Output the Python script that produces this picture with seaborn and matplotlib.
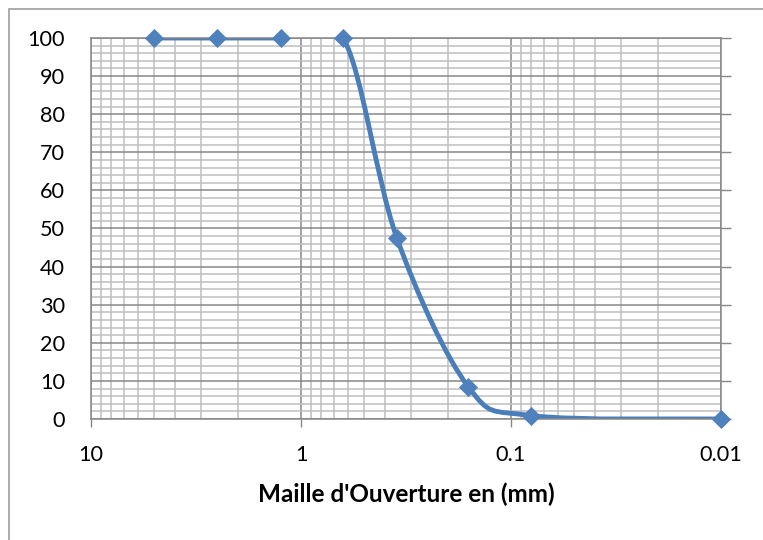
import numpy as np
import matplotlib
matplotlib.use("Agg")
import matplotlib.pyplot as plt
import seaborn as sns
from matplotlib.path import Path
from matplotlib.patches import PathPatch
from matplotlib.lines import Line2D
from matplotlib.ticker import FixedLocator, FixedFormatter, MultipleLocator, NullFormatter

# ---- data ----
sieve_mm = [5, 2.5, 1.25, 0.63, 0.35, 0.16, 0.08, 0.01]
passing_pct = [100, 100, 100, 100, 47.6, 8.5, 0.9, 0]
x_ticks = [10, 1, 0.1, 0.01]
x_tick_labels = ["10", "1", "0.1", "0.01"]
y_ticks = [0, 10, 20, 30, 40, 50, 60, 70, 80, 90, 100]
x_label = "Maille d'Ouverture en (mm)"

LINE_C = "#4A7EBB"
MARK_C = "#4F81BD"
MAJ_C = "#878787"
MIN_C = "#BFBFBF"

sns.set_theme(style="white")
plt.rcParams["font.family"] = ["Lato", "DejaVu Sans"]

fig = plt.figure(figsize=(7.63, 5.40), dpi=100)
ax = fig.add_axes([91 / 763, 1 - 419 / 540, (721 - 91) / 763, (419 - 38) / 540])

ax.set_xscale("log")
ax.set_xlim(10, 0.01)
ax.set_ylim(0, 100)

# smooth (Catmull-Rom -> cubic Bezier) curve in log-x space
lx = np.log10(np.array(sieve_mm, dtype=float))
yy = np.array(passing_pct, dtype=float)
n = len(lx)
P = np.column_stack([lx, yy])
verts = [P[0]]
codes = [Path.MOVETO]
for i in range(n - 1):
    pm = P[i - 1] if i > 0 else P[i]
    pp = P[i + 2] if i + 2 < n else P[i + 1]
    c1 = P[i] + (P[i + 1] - pm) / 6.0
    c2 = P[i + 1] - (pp - P[i]) / 6.0
    verts += [c1, c2, P[i + 1]]
    codes += [Path.CURVE4] * 3
verts = np.array(verts)
verts[:, 0] = 10 ** verts[:, 0]
patch = PathPatch(Path(verts, codes), facecolor="none", edgecolor=LINE_C,
                  linewidth=3.5, zorder=2.5, capstyle="round", joinstyle="round")
ax.add_patch(patch)

sns.scatterplot(x=sieve_mm, y=passing_pct, marker="D", s=95, color=MARK_C,
                linewidth=0, ax=ax, zorder=3, clip_on=False, legend=False)

# ticks & grid
ax.xaxis.set_major_locator(FixedLocator(x_ticks))
ax.xaxis.set_major_formatter(FixedFormatter(x_tick_labels))
ax.xaxis.set_minor_locator(matplotlib.ticker.LogLocator(base=10, subs=np.arange(2, 10)))
ax.xaxis.set_minor_formatter(NullFormatter())
ax.yaxis.set_major_locator(FixedLocator(y_ticks))
ax.yaxis.set_minor_locator(MultipleLocator(2))

ax.grid(which="major", color=MAJ_C, linewidth=1.1, zorder=0)
ax.grid(which="minor", color=MIN_C, linewidth=1.1, zorder=0)
ax.set_axisbelow(True)

ax.tick_params(axis="x", which="major", bottom=True, top=False, direction="out",
               length=5.8, width=1.0, color=MAJ_C, pad=13, labelsize=15.6, labelcolor="black")
ax.tick_params(axis="x", which="minor", bottom=False, top=False, length=0)
ax.tick_params(axis="y", which="major", left=False, right=True, direction="out",
               length=7.2, width=1.0, color=MAJ_C, pad=11.5, labelsize=15.6,
               labelleft=True, labelright=False, labelcolor="black")
ax.tick_params(axis="y", which="minor", left=False, right=False, length=0)

for s in ax.spines.values():
    s.set_visible(True)
    s.set_color(MAJ_C)
    s.set_linewidth(1.1)

ax.set_xlabel("")
ax.set_ylabel("")
fig.text(406 / 763, 1 - 502 / 540, x_label, ha="center", va="baseline",
         fontsize=17.5, fontweight="bold", color="black")

# outer chart frame (cut off at right/bottom as in the reference)
fig.add_artist(Line2D([8.5 / 763, 1.0], [1 - 8.5 / 540, 1 - 8.5 / 540],
                      transform=fig.transFigure, color="#A6A6A6", linewidth=1.3))
fig.add_artist(Line2D([8.5 / 763, 8.5 / 763], [0.0, 1 - 8.5 / 540],
                      transform=fig.transFigure, color="#A6A6A6", linewidth=1.3))

fig.savefig("out.png", dpi=100)
